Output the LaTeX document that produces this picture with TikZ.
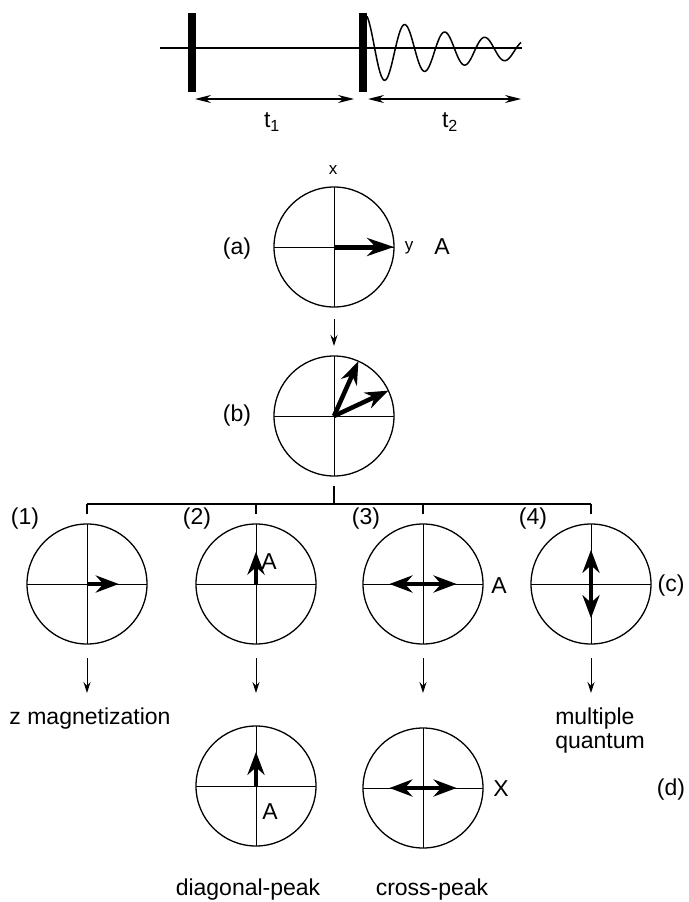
\documentclass[tikz,border=0pt]{standalone}
\usepackage{fontspec}
\setmainfont{Liberation Sans}
\usetikzlibrary{arrows.meta,positioning,calc}

\begin{document}
\begin{tikzpicture}[x=1pt, y=-1pt, >=Stealth, font=\fontsize{23}{24}\selectfont,
   ring/.style={circle, draw, line width=1.3pt, minimum size=120pt, inner sep=0pt, outer sep=0pt},
   vec/.style={line width=4.5pt, -{Stealth[length=23pt, width=17pt]}},
   dvec/.style={line width=4.5pt, {Stealth[length=23pt, width=17pt]}-{Stealth[length=23pt, width=17pt]}},
   dn/.style={line width=1pt, -{Stealth[length=11pt, width=7pt]}},
   span/.style={line width=1.2pt, {Stealth[length=16pt, width=8pt]}-{Stealth[length=16pt, width=8pt]}},
   pulse/.style={fill, minimum width=8pt, minimum height=79pt, inner sep=0pt},
   small/.style={font=\fontsize{17}{18}\selectfont}]
  \useasboundingbox (0,0) rectangle (688,902);
  % pulse sequence
  \coordinate (s0) at (160,48); \coordinate (s1) at (522,48);
  \draw[line width=1.4pt] (s0) -- (s1);
  \node[pulse] (p1) at (192,52.5) {};
  \node[pulse] (p2) at (363,52.5) {};
  \draw[line width=1.5pt] plot[domain=367:521, samples=150, smooth]
    (\x, {50-36*exp(-(\x-365)/115)*cos(9*(\x-365))});
  \coordinate (t1l) at (195,99); \coordinate (t1r) at (354,99);
  \coordinate (t2l) at (368,99); \coordinate (t2r) at (521,99);
  \draw[span] (t1l) -- (t1r); \draw[span] (t2l) -- (t2r);
  \node (t1) at (272,122) {t\textsubscript{1}};
  \node (t2) at (450,122) {t\textsubscript{2}};
  % vector diagrams
  \node[ring] (a) at (334,247) {};
  \node[ring] (b) at (334,416) {};
  \node[ring] (r1) at (87,584) {};
  \node[ring] (r2) at (256,584) {};
  \node[ring] (r3) at (423,584) {};
  \node[ring] (r4) at (591,584) {};
  \node[ring] (d1) at (256,786) {};
  \node[ring] (d2) at (423,788) {};
  \foreach \c in {a,b,r1,r2,r3,r4,d1,d2}
    \draw[line width=1pt] (\c.north) -- (\c.south) (\c.west) -- (\c.east);
  \draw[vec, line width=5pt, -{Stealth[length=27pt, width=18pt]}] (a.center) -- (a.east);
  \draw[vec] (b.center) -- (b.66);
  \draw[vec] (b.center) -- (b.25);
  \draw[vec] (r1.center) -- ($(r1.center)!.53!(r1.east)$);
  \draw[vec] (r2.center) -- ($(r2.center)!.54!(r2.north)$);
  \draw[dvec] ($(r3.center)!.56!(r3.west)$) -- ($(r3.center)!.56!(r3.east)$);
  \draw[dvec] ($(r4.center)!.57!(r4.north)$) -- ($(r4.center)!.57!(r4.south)$);
  \draw[vec] (d1.center) -- ($(d1.center)!.57!(d1.north)$);
  \draw[dvec] ($(d2.center)!.56!(d2.west)$) -- ($(d2.center)!.56!(d2.east)$);
  % connectors
  \draw[dn] ($(a.south)+(0,12)$) -- ($(b.north)+(0,-10)$);
  \coordinate (hub) at ($(b.south)+(0,28)$);
  \draw[line width=1.1pt] ($(b.south)+(0,10)$) -- (hub);
  \draw[line width=1.1pt] (r1.north |- hub) -- (r4.north |- hub);
  \foreach \c in {r1,r2,r3,r4} {
    \draw[line width=1.1pt] (\c.north |- hub) -- ($(\c.north)+(0,-10)$);
    \draw[dn] ($(\c.south)+(0,14)$) -- ($(\c.south)+(0,49)$);
  }
  % labels
  \node[small] (xl) at (333,170) {x};
  \node[small] (yl) at (409,248) {y};
  \node (al) at (442,247) {A};
  \node (la) at (237,249) {(a)};
  \node (lb) at (237,416) {(b)};
  \node (l1) at (25,519) {(1)};
  \node (l2) at (197,519) {(2)};
  \node (l3) at (366,519) {(3)};
  \node (l4) at (533,519) {(4)};
  \node (a2) at (269,562) {A};
  \node (a3) at (499,586) {A};
  \node (lc) at (671,586) {(c)};
  \node (zm) at (90,719) {z magnetization};
  \node[align=left] (mq) at (600,731) {multiple\\quantum};
  \node (a4) at (270,812) {A};
  \node (xx) at (501,789) {X};
  \node (ld) at (671,790) {(d)};
  \node (dp) at (248,890) {diagonal-peak};
  \node (cp) at (432,890) {cross-peak};
\end{tikzpicture}
\end{document}
